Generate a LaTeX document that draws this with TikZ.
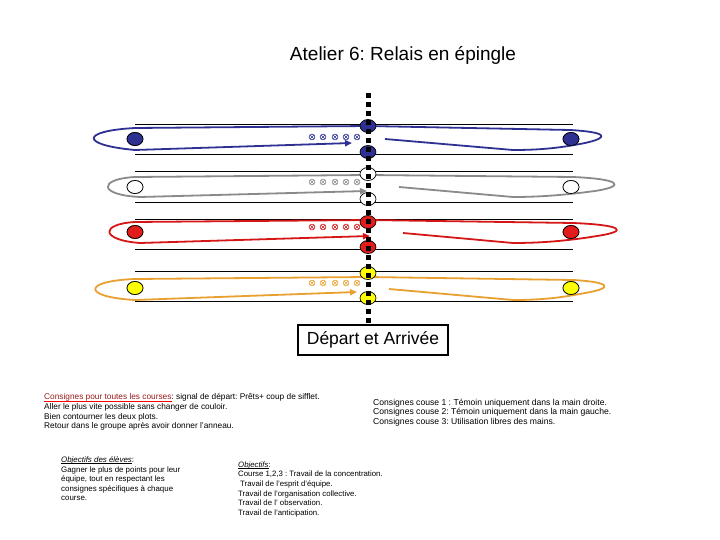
\documentclass[tikz,border=0pt]{standalone}
\usepackage{fontspec}
\setmainfont{Liberation Sans}
\usetikzlibrary{arrows.meta,shapes.geometric}
\definecolor{cblue}{HTML}{2E3192}
\definecolor{cgray}{HTML}{8A8A8A}
\definecolor{cred}{HTML}{D41616}
\definecolor{cfred}{HTML}{E21B1B}
\definecolor{corange}{HTML}{E8A030}
\definecolor{cyellow}{HTML}{FFFF00}
\definecolor{darkred}{HTML}{9A1A1A}
\newcommand\myul[2]{\setbox0\hbox{#2}\rlap{\color{#1}\rule[-1.4pt]{\wd0}{0.7pt}}\box0}
\tikzset{
  laneline/.style={black, line width=0.9pt},
  hairpin/.style={line width=1.8pt, line join=round},
  tip/.style={-{Triangle[length=7pt,width=6pt]}},
  ball/.style={ellipse, draw=black, line width=0.7pt, minimum width=16pt, minimum height=13pt, inner sep=0pt},
  xmk/.pic={\draw (0,0) circle (2.9); \draw (-2,-2) -- (2,2) (-2,2) -- (2,-2);},
  dashline/.style={line width=5pt, dash pattern=on 5pt off 4pt},
  txt/.style={align=left, inner sep=0pt, anchor=north west}
}
\begin{document}
\frenchspacing
\begin{tikzpicture}[x=1pt,y=-1pt]
\useasboundingbox (0,0) rectangle (720,540);
% title
\node[font=\fontsize{19}{21}\selectfont] (title) at (403,55) {Atelier 6: Relais en épingle};
% lane lines
\foreach \yy in {124,154,171,202,219,249,271,301}
  \draw[laneline] (135,\yy) -- (573,\yy);
% circles (nodes)
\node[ball, fill=cblue] (l1) at (135,139) {};
\node[ball, fill=white] (l2) at (135,187) {};
\node[ball, fill=cfred] (l3) at (135,232) {};
\node[ball, fill=cyellow] (l4) at (135,288) {};
\node[ball, fill=cblue] (r1) at (571,139) {};
\node[ball, fill=white] (r2) at (571,187) {};
\node[ball, fill=cfred] (r3) at (571,232) {};
\node[ball, fill=cyellow] (r4) at (571,288) {};
% hairpin loops
\draw[hairpin, cblue, tip] (368,126) -- (135,128) .. controls (80,131) and (80,145) .. (135,150) -- (352,143);
\draw[hairpin, cblue] (368,126) -- (570,130) .. controls (605,132) and (612,137) .. (585,143) .. controls (560,148) and (540,150) .. (513,150) -- (385,139);
\draw[hairpin, cgray, tip] (368,175) -- (135,177) .. controls (98,179) and (98,195) .. (140,197) -- (367,191);
\draw[hairpin, cgray] (368,175) -- (573,177) .. controls (620,179) and (627,186) .. (595,191) .. controls (565,195) and (540,197) .. (513,197) -- (399,187);
\draw[hairpin, cred, tip] (368,220) -- (135,222) .. controls (100,224) and (100,240) .. (140,243) -- (370,236);
\draw[hairpin, cred] (368,220) -- (573,223) .. controls (622,225) and (630,231) .. (597,236) .. controls (567,241) and (540,243) .. (513,243) -- (403,233);
\draw[hairpin, corange, tip] (368,277) -- (135,279) .. controls (82,281) and (82,297) .. (135,300) -- (357,292);
\draw[hairpin, corange] (368,277) -- (573,280) .. controls (610,282) and (615,288) .. (585,293) .. controls (560,298) and (540,300) .. (513,300) -- (389,289);
% redraw side balls on top
\node[ball, fill=cblue] at (l1) {};
\node[ball, fill=white] at (l2) {};
\node[ball, fill=cfred] at (l3) {};
\node[ball, fill=cyellow] at (l4) {};
\node[ball, fill=cblue] at (r1) {};
\node[ball, fill=white] at (r2) {};
\node[ball, fill=cfred] at (r3) {};
\node[ball, fill=cyellow] at (r4) {};
% markers
\foreach \xx in {312,323,335,346,357} {
  \pic[cblue, line width=0.6pt] at (\xx,137) {xmk};
  \pic[cgray, line width=0.6pt] at (\xx,182) {xmk};
  \pic[cred, line width=0.6pt] at (\xx,227) {xmk};
  \pic[corange, line width=0.6pt] at (\xx,283) {xmk};
}
% center balls
\node[ball, fill=cblue] (c1a) at (368,126) {};
\node[ball, fill=cblue] (c1b) at (368,152) {};
\node[ball, fill=white] (c2a) at (368,174) {};
\node[ball, fill=white] (c2b) at (368,199) {};
\node[ball, fill=cfred] (c3a) at (368,222) {};
\node[ball, fill=cfred] (c3b) at (368,247) {};
\node[ball, fill=cyellow] (c4a) at (368,273) {};
\node[ball, fill=cyellow] (c4b) at (368,298) {};
% start/finish box and dashed line
\node[draw, line width=1.2pt, minimum width=150pt, minimum height=30pt, font=\fontsize{17.5}{19}\selectfont] (depart) at (373,340) {Départ et Arrivée};
\coordinate (dtop) at (368,93);
\coordinate (dbot) at (368,324);
\draw[dashline] (dtop) -- (dbot);
% texts
\node[txt, font=\fontsize{8.3}{9.6}\selectfont] (t1) at (44,393.5) {\myul{red}{\textcolor{darkred}{Consignes pour toutes les courses}}: signal de départ: Prêts+ coup de sifflet.\\
Aller le plus vite possible sans changer de couloir.\\
Bien contourner les deux plots.\\
Retour dans le groupe après avoir donner l'anneau.};
\node[txt, font=\fontsize{8.6}{9.6}\selectfont] (t2) at (373,398.5) {Consignes couse 1 : Témoin uniquement dans la main droite.\\
Consignes couse 2: Témoin uniquement dans la main gauche.\\
Consignes couse 3: Utilisation libres des mains.};
\node[txt, font=\fontsize{7.9}{9.5}\selectfont] (t3) at (61,456.5) {\myul{black}{\textit{Objectifs des élèves}}:\\
Gagner le plus de points pour leur\\
équipe, tout en respectant les\\
consignes spécifiques à chaque\\
course.};
\node[txt, font=\fontsize{7.8}{9.6}\selectfont] (t4) at (238,461.5) {\myul{black}{\textit{Objectifs}}:\\
Course 1,2,3 : Travail de la concentration.\\
\hspace{2pt}Travail de l'esprit d'équipe.\\
Travail de l'organisation collective.\\
Travail de l' observation.\\
Travail de l'anticipation.};
\end{tikzpicture}
\end{document}
